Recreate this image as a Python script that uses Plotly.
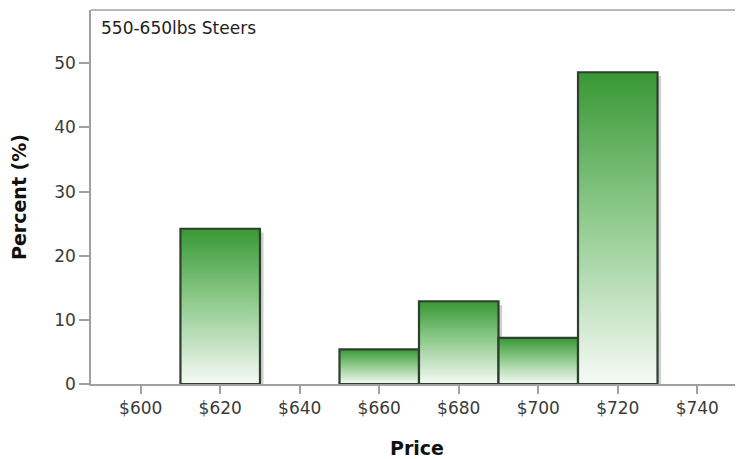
import plotly.graph_objects as go

# Data
bin_centers = [620, 660, 680, 700, 720]
percents = [24.2, 5.4, 12.9, 7.2, 48.6]
bin_width = 20
tick_vals = [600, 620, 640, 660, 680, 700, 720, 740]
tick_text = ["$600", "$620", "$640", "$660", "$680", "$700", "$720", "$740"]
y_ticks = [0, 10, 20, 30, 40, 50]
title_text = "550-650lbs Steers"

FONT = "DejaVu Sans"
fig = go.Figure()

# drop shadows (offset to the right)
sh = 0.9
for c, p in zip(bin_centers, percents):
    x0, x1 = c - bin_width / 2, c + bin_width / 2
    fig.add_trace(go.Scatter(
        x=[x0 + sh, x1 + sh, x1 + sh, x0 + sh, x0 + sh],
        y=[0, 0, p - 0.6, p - 0.6, 0],
        fill="toself", fillcolor="#cfcfcf", mode="lines",
        line=dict(width=0), hoverinfo="skip", showlegend=False))

for c, p in zip(bin_centers, percents):
    x0, x1 = c - bin_width / 2, c + bin_width / 2
    fig.add_trace(go.Scatter(
        x=[x0, x1, x1, x0, x0], y=[0, 0, p, p, 0],
        fill="toself", mode="lines",
        fillgradient=dict(type="vertical",
                          colorscale=[[0, "#f6faf5"], [0.55, "#8cc98a"], [1, "#389834"]]),
        line=dict(color="#2f3f2f", width=2.2),
        hoverinfo="skip", showlegend=False))

fig.add_annotation(text=title_text, xref="paper", yref="paper", x=0.012, y=0.995,
                   xanchor="left", yanchor="top", showarrow=False, yshift=-4,
                   font=dict(family=FONT, size=17, color="#222"))

# top frame line
fig.add_shape(type="line", xref="paper", yref="paper", x0=0, x1=1, y0=1, y1=1,
              line=dict(color="#a0a0a0", width=1.5))

fig.update_layout(
    width=735, height=451,
    margin=dict(l=83, r=0, t=2, b=75),
    plot_bgcolor="white", paper_bgcolor="white",
    font=dict(family=FONT, color="#333"),
    xaxis=dict(range=[587.5, 751.5], tickvals=tick_vals, ticktext=tick_text,
               ticks="outside", ticklen=8, tickcolor="#a0a0a0", tickwidth=1.5,
               showline=True, linecolor="#a0a0a0", linewidth=1.5,
               showgrid=False, zeroline=False,
               tickfont=dict(family=FONT, size=17, color="#3a3a3a"),
               title=dict(text="<b>Price</b>", font=dict(family=FONT, size=19, color="#111"),
                          standoff=26)),
    yaxis=dict(range=[0, 58.3], tickvals=y_ticks,
               ticks="outside", ticklen=10, tickcolor="#a0a0a0", tickwidth=1.5,
               showline=True, linecolor="#a0a0a0", linewidth=1.5,
               showgrid=False, zeroline=False,
               tickfont=dict(family=FONT, size=17, color="#3a3a3a"),
               title=dict(text="<b>Percent (%)</b>", font=dict(family=FONT, size=19, color="#111"),
                          standoff=24)),
)

fig.write_html("out.html")
